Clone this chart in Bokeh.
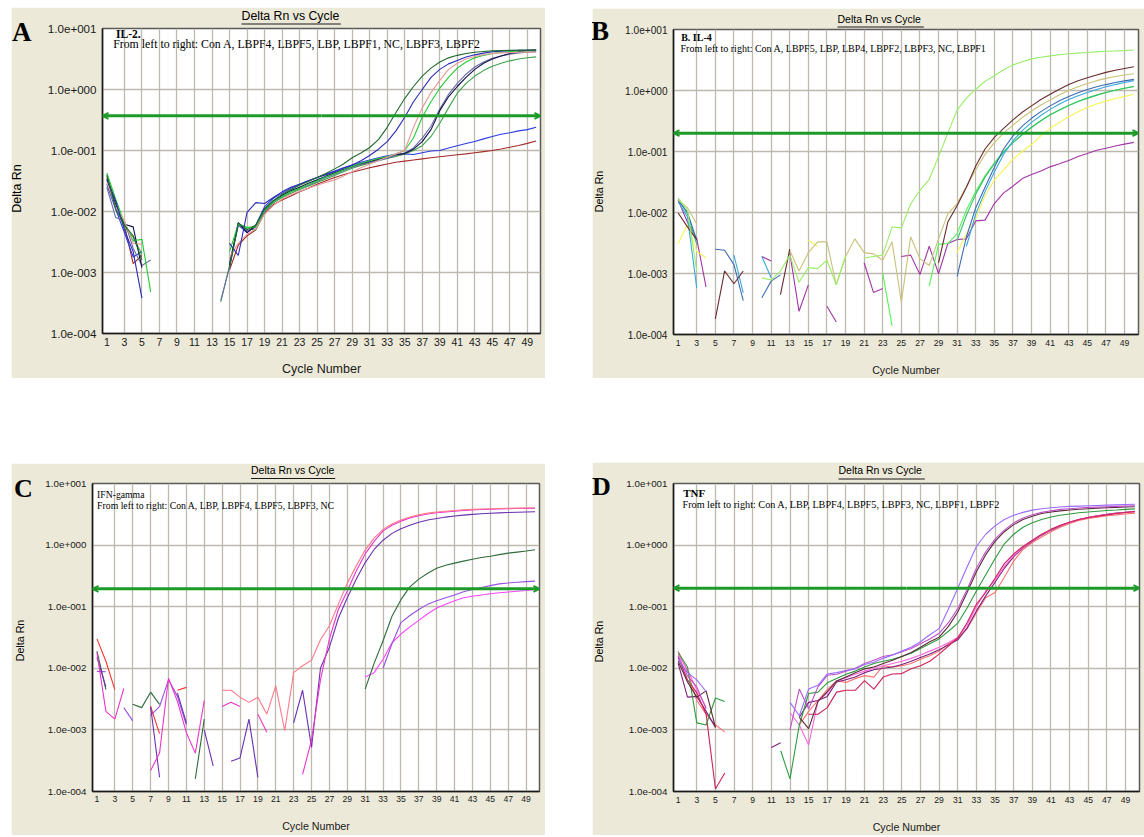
import numpy as np
from bokeh.plotting import figure
from bokeh.models import (Range1d, FixedTicker, CustomJSTickFormatter, Label,
                          Arrow, OpenHead, Spacer)
from bokeh.layouts import row, column
from bokeh.embed import file_html
from bokeh.resources import INLINE

N = None
CYCLES = list(range(1, 51))
X_TICKS = [1, 3, 5, 7, 9, 11, 13, 15, 17, 19, 21, 23, 25, 27, 29, 31, 33, 35, 37, 39, 41, 43, 45, 47, 49]
GRID_X = X_TICKS[1:]
Y_TICKS = [0.0001, 0.001, 0.01, 0.1, 1.0, 10.0]
X_START, X_END = 0.5, 50.5
Y_START, Y_END = 0.0001, 10.0

# ---------------- A : IL-2 ----------------
IL2_CONA = [0.040, 0.011, 0.0060, 0.0040, 0.0016] + [N] * 9 + [
    0.0012, 0.0065, 0.0050, 0.0060, 0.0110, 0.0150, 0.0190, 0.0230, 0.027, 0.031,
    0.036, 0.042, 0.050, 0.060, 0.076, 0.091, 0.112, 0.151, 0.24, 0.42,
    0.71, 1.12, 1.66, 2.24, 2.82, 3.3, 3.63, 3.89, 4.07, 4.2,
    4.3, 4.35, 4.4, 4.42, 4.45, 4.47]
IL2_LBPF4 = [0.034, 0.015, 0.0050, 0.0022, 0.00038] + [N] * 9 + [
    0.0030, 0.0019, 0.0097, 0.0140, 0.0135, 0.0170, 0.021, 0.025, 0.028, 0.032,
    0.036, 0.040, 0.045, 0.051, 0.058, 0.068, 0.083, 0.105, 0.14, 0.21,
    0.35, 0.63, 1.0, 1.58, 2.14, 2.63, 3.0, 3.4, 3.7, 3.95,
    4.15, 4.25, 4.35, 4.4, 4.42, 4.45]
IL2_LBPF5 = [0.030, 0.012, 0.0070, 0.0030, 0.0029] + [N] * 9 + [
    0.0018, 0.0030, 0.0042, 0.0052, 0.0090, 0.0125, 0.0160, 0.0190, 0.0215, 0.024,
    0.027, 0.030, 0.033, 0.038, 0.045, 0.052, 0.060, 0.068, 0.078, 0.088,
    0.10, 0.24, 0.50, 0.89, 1.41, 2.14, 2.69, 3.16, 3.47, 3.72,
    3.9, 3.98, 4.03, 4.08, 4.1, 4.12]
IL2_LBP = [0.043, 0.016, 0.0065, 0.0033, 0.0035, 0.00048] + [N] * 8 + [
    0.0022, 0.0062, 0.0055, 0.0056, 0.0105, 0.0140, 0.0175, 0.021, 0.024, 0.028,
    0.032, 0.037, 0.042, 0.048, 0.055, 0.062, 0.068, 0.074, 0.080, 0.088,
    0.10, 0.16, 0.35, 0.63, 1.05, 1.58, 2.24, 2.82, 3.3, 3.63,
    3.89, 4.07, 4.17, 4.27, 4.3, 4.36]
IL2_LBPF1 = [0.033, 0.013, 0.0062, 0.0056, 0.0012] + [N] * 9 + [
    0.0013, 0.0066, 0.0045, 0.0058, 0.0110, 0.0150, 0.0185, 0.0220, 0.025, 0.029,
    0.033, 0.038, 0.043, 0.049, 0.055, 0.061, 0.066, 0.072, 0.079, 0.085,
    0.089, 0.105, 0.14, 0.22, 0.45, 0.76, 1.12, 1.58, 2.14, 2.69,
    3.16, 3.55, 3.89, 4.17, 4.32, 4.42]
IL2_NC = [0.028, 0.011, 0.0045, 0.0018, 0.0022] + [N] * 9 + [
    0.0014, 0.0060, 0.0045, 0.0060, 0.0120, 0.0165, 0.0200, 0.024, 0.028, 0.032,
    0.036, 0.041, 0.046, 0.052, 0.058, 0.064, 0.070, 0.076, 0.082, 0.087,
    0.088, 0.086, 0.092, 0.098, 0.10, 0.11, 0.12, 0.13, 0.14, 0.155,
    0.17, 0.185, 0.195, 0.21, 0.22, 0.24]
IL2_LBPF3 = [0.025, 0.0080, 0.0070, 0.0025, 0.0013, 0.0016] + [N] * 7 + [
    0.00035, 0.0012, 0.0060, 0.0048, 0.0055, 0.0100, 0.0140, 0.0175, 0.021, 0.024,
    0.027, 0.031, 0.036, 0.041, 0.047, 0.053, 0.059, 0.064, 0.069, 0.075,
    0.083, 0.092, 0.11, 0.16, 0.25, 0.48, 0.83, 1.26, 1.78, 2.34,
    2.82, 3.24, 3.55, 3.8, 3.98, 4.07, 4.17]
IL2_LBPF2 = [0.038, 0.014, 0.0055, 0.0038, 0.0020] + [N] * 8 + [
    0.00033, 0.0013, 0.0064, 0.0052, 0.0050, 0.0100, 0.0140, 0.0170, 0.020, 0.023,
    0.026, 0.030, 0.034, 0.039, 0.045, 0.051, 0.057, 0.062, 0.068, 0.074,
    0.080, 0.088, 0.10, 0.12, 0.17, 0.28, 0.50, 0.87, 1.26, 1.66,
    2.04, 2.4, 2.69, 2.95, 3.16, 3.31, 3.43]
IL2_LOW = [0.036, 0.013, 0.0060, 0.0014, 0.0019] + [N] * 9 + [
    0.0011, 0.0028, 0.0040, 0.0050, 0.0095, 0.0130, 0.0155, 0.0180, 0.021, 0.024,
    0.028, 0.032, 0.036, 0.040, 0.044, 0.048, 0.052, 0.056, 0.060, 0.064,
    0.067, 0.070, 0.073, 0.076, 0.079, 0.082, 0.085, 0.088, 0.092, 0.096,
    0.10, 0.106, 0.113, 0.121, 0.131, 0.143]
IL2_THRESHOLD = 0.37

# ---------------- B : IL-4 ----------------
IL4_CONA = [0.017, 0.011, 0.0011] + [N] * 6 + [
    0.00085, 0.00078, 0.0011, 0.0020, 0.00072, 0.00125, 0.0012, 0.00165, 0.00065, 0.0019] + [N] + [
    0.0018, 0.0019, 0.0020, 0.0058, 0.0056, 0.0138, 0.023, 0.035, 0.083, 0.20,
    0.48, 0.75, 1.05, 1.41, 1.74, 2.19, 2.63, 2.95, 3.3, 3.5,
    3.7, 3.85, 4.0, 4.1, 4.2, 4.3, 4.4, 4.45, 4.5, 4.6]
IL4_LBPF5 = [0.0098, 0.0058, 0.0036] + [N] + [0.00018, 0.0011, 0.00068, 0.0011] + [N] * 3 + [
    0.00045, 0.0025] + [N] * 15 + [
    0.0015, 0.0070, 0.013, 0.026, 0.058, 0.11, 0.17, 0.24, 0.33, 0.44,
    0.56, 0.71, 0.87, 1.05, 1.25, 1.45, 1.62, 1.8, 1.98, 2.15, 2.3, 2.45]
IL4_LBP = [0.016, 0.012, 0.0065] + [N] * 9 + [
    0.0024, 0.0011, 0.0022, 0.0033, 0.0033, 0.00065, 0.0019, 0.0037, 0.0022, 0.0021,
    0.00165, 0.0033, 0.00034, 0.0040, 0.00175, 0.00135, 0.0037, 0.0095, 0.014, 0.027,
    0.05, 0.09, 0.14, 0.2, 0.27, 0.36, 0.46, 0.58, 0.7, 0.85,
    1.0, 1.15, 1.3, 1.45, 1.58, 1.7, 1.8, 1.88]
IL4_LBP4 = [0.016, 0.010, 0.0035] + [N] + [0.0025, 0.0024, 0.0014, 0.00036] + [N] + [
    0.00040, 0.00075, 0.00095] + [N] * 18 + [
    0.0009, 0.0040, 0.012, 0.026, 0.055, 0.11, 0.18, 0.26, 0.35, 0.45,
    0.56, 0.68, 0.8, 0.92, 1.04, 1.15, 1.25, 1.35, 1.44, 1.52]
IL4_LBPF2 = [0.015, 0.0085, 0.00058] + [N] * 3 + [0.0020, 0.00048] + [N] + [0.0019, 0.00085] + [N] * 20 + [
    0.0028, 0.0095, 0.022, 0.046, 0.09, 0.15, 0.22, 0.3, 0.39, 0.49,
    0.6, 0.71, 0.82, 0.93, 1.04, 1.15, 1.25, 1.35, 1.45]
IL4_LBPF3 = [0.017, 0.0095, 0.0030] + [N] * 27 + [
    0.0035, 0.009, 0.02, 0.038, 0.063, 0.097, 0.14, 0.19, 0.25, 0.32,
    0.4, 0.48, 0.57, 0.66, 0.75, 0.84, 0.93, 1.01, 1.09, 1.16]
IL4_NC = [N] * 22 + [0.0010, 0.00014] + [N] * 3 + [
    0.00062, 0.0030, 0.0031, 0.0045, 0.011, 0.022, 0.04, 0.065, 0.1, 0.14,
    0.19, 0.25, 0.32, 0.4, 0.48, 0.57, 0.66, 0.75, 0.84, 0.93, 1.01, 1.09, 1.17]
IL4_LBPF1 = [0.0031, 0.0063, 0.0023, 0.0018] + [N] * 10 + [0.0035, 0.0028] + [N] * 14 + [
    0.0022, 0.0045, 0.008, 0.019, 0.034, 0.05, 0.075, 0.1, 0.13, 0.18,
    0.24, 0.3, 0.37, 0.45, 0.53, 0.6, 0.67, 0.74, 0.8, 0.87]
IL4_LOW = [0.016, 0.0069, 0.0037, 0.00060] + [N] * 5 + [0.0019, 0.0016] + [N] + [
    0.0022, 0.00024, 0.00065] + [N] + [0.00029, 0.00016] + [N] * 2 + [
    0.0015, 0.00049, 0.00057] + [N] + [
    0.0019, 0.0020, 0.00096, 0.0028, 0.00099, 0.0031, 0.0036, 0.0037, 0.0073, 0.0075,
    0.014, 0.021, 0.027, 0.036, 0.042, 0.048, 0.056, 0.063, 0.071, 0.083,
    0.093, 0.105, 0.113, 0.123, 0.132, 0.141]
IL4_THRESHOLD = 0.20

# ---------------- C : IFN-gamma ----------------
IFN_RED = [0.030, 0.013, 0.0045] + [N] * 3 + [0.0024, 0.00087] + [N] + [0.0044, 0.0049] + [N] * 39
IFN_CONA = [N] * 14 + [
    0.0044, 0.0044, 0.0034, 0.0028, 0.0034, 0.0018, 0.0052, 0.00097, 0.0085, 0.011,
    0.0135, 0.029, 0.049, 0.11, 0.24, 0.46, 0.83, 1.3, 1.8, 2.2,
    2.55, 2.85, 3.1, 3.3, 3.45, 3.55, 3.65, 3.75, 3.8, 3.85,
    3.9, 3.93, 3.96, 3.98, 4.0, 4.05]
IFN_LBP = [0.018, 0.0020, 0.0015, 0.0047] + [N] * 2 + [
    0.00022, 0.00042, 0.0069, 0.0029, 0.00090, 0.00042, 0.0030] + [N] + [
    0.0024, 0.0028, 0.0024] + [N] + [0.0018, 0.00092] + [N] * 3 + [
    0.00019, 0.00068, 0.0065, 0.03, 0.09, 0.18, 0.38, 0.72, 1.15, 1.7,
    2.1, 2.45, 2.75, 3.0, 3.2, 3.35, 3.45, 3.55, 3.65, 3.72,
    3.78, 3.83, 3.87, 3.9, 3.93, 3.95, 3.97]
IFN_LBPF4 = [0.015, 0.0050] + [N] * 4 + [0.0024, 0.00017] + [N] + [0.0040, 0.0013] + [N] + [
    0.0010, 0.00026] + [N] + [0.00031, 0.00035, 0.0015, 0.00017] + [N] * 3 + [
    0.0013, 0.0044, 0.00052, 0.0100, 0.022, 0.065, 0.14, 0.28, 0.52, 0.85,
    1.2, 1.55, 1.85, 2.1, 2.35, 2.55, 2.7, 2.85, 2.97, 3.07,
    3.15, 3.22, 3.28, 3.33, 3.38, 3.42, 3.45, 3.48]
IFN_LBPF5 = [0.019, 0.0045] + [N] * 2 + [0.0026, 0.0023, 0.0041, 0.0026] + [N] * 3 + [
    0.00016, 0.0015] + [N] * 17 + [
    0.0046, 0.012, 0.028, 0.07, 0.13, 0.21, 0.28, 0.35, 0.42, 0.47,
    0.51, 0.55, 0.59, 0.63, 0.66, 0.7, 0.74, 0.77, 0.8, 0.84]
IFN_LBPF3 = [0.0089, 0.0088] + [N] + [0.0023, 0.0014] + [N] + [0.0017, 0.0024] + [
    0.0065, 0.0035, 0.0012] + [N] * 21 + [
    0.010, 0.025, 0.055, 0.072, 0.09, 0.11, 0.125, 0.14, 0.155, 0.175,
    0.19, 0.205, 0.22, 0.235, 0.243, 0.25, 0.255, 0.26]
IFN_NC = [N] * 30 + [
    0.0072, 0.0085, 0.014, 0.026, 0.036, 0.047, 0.06, 0.077, 0.095, 0.11,
    0.125, 0.14, 0.148, 0.155, 0.162, 0.168, 0.173, 0.178, 0.183, 0.19]
IFN_THRESHOLD = 0.195

# ---------------- D : TNF ----------------
TNF_CONA = [0.014, 0.0085, 0.0065, 0.0042] + [N] * 8 + [
    0.0028, 0.0017, 0.0046, 0.0053, 0.0081, 0.0085, 0.0092, 0.0098, 0.0115, 0.0125,
    0.0145, 0.0165, 0.019, 0.022, 0.027, 0.035, 0.044, 0.092, 0.2, 0.44,
    0.95, 1.5, 2.05, 2.6, 3.05, 3.4, 3.7, 3.9, 4.05, 4.15,
    4.25, 4.3, 4.35, 4.4, 4.45, 4.5, 4.55, 4.6]
TNF_LBP = [0.016, 0.0075, 0.0050, 0.0022] + [N] * 8 + [
    0.0010, 0.0046, 0.0022, 0.0050, 0.0077, 0.0080, 0.0090, 0.0100, 0.0120, 0.0135,
    0.0155, 0.0165, 0.0185, 0.021, 0.025, 0.030, 0.037, 0.055, 0.093, 0.19,
    0.42, 0.78, 1.25, 1.75, 2.3, 2.75, 3.1, 3.4, 3.6, 3.8,
    3.9, 4.0, 4.1, 4.15, 4.2, 4.25, 4.3, 4.35]
TNF_LBPF4 = [0.013, 0.0060, 0.0034, 0.0043, 0.0011] + [N] * 8 + [
    0.0016, 0.00105, 0.0029, 0.0042, 0.0062, 0.0072, 0.0085, 0.0098, 0.0105, 0.0120,
    0.0135, 0.0155, 0.018, 0.022, 0.027, 0.032, 0.048, 0.082, 0.17, 0.37,
    0.7, 1.15, 1.65, 2.15, 2.6, 2.95, 3.25, 3.45, 3.6, 3.72,
    3.82, 3.9, 3.98, 4.05, 4.1, 4.15, 4.2]
TNF_LBPF5 = [0.018, 0.0105, 0.0013, 0.0012, 0.0033, 0.0029] + [N] * 5 + [
    0.00046, 0.00016, 0.0012, 0.0039, 0.0041, 0.0058, 0.0068, 0.0080, 0.0090, 0.0105,
    0.0120, 0.0130, 0.0140, 0.0155, 0.0175, 0.021, 0.025, 0.030, 0.040, 0.054,
    0.095, 0.18, 0.33, 0.6, 1.05, 1.5, 1.95, 2.3, 2.6, 2.85,
    3.05, 3.2, 3.35, 3.45, 3.55, 3.65, 3.72, 3.8, 3.88]
TNF_LBPF3 = [0.015, 0.0065, 0.0040, 0.0018, 0.00011, 0.00020] + [N] * 8 + [
    0.0018, 0.0018, 0.0023, 0.0041, 0.0044, 0.0044, 0.0063, 0.0046, 0.0072, 0.0081,
    0.0082, 0.0098, 0.011, 0.013, 0.017, 0.023, 0.031, 0.055, 0.11, 0.17,
    0.29, 0.5, 0.72, 0.95, 1.2, 1.5, 1.8, 2.1, 2.35, 2.6,
    2.8, 2.95, 3.1, 3.25, 3.38, 3.5]
TNF_NC = [0.017, 0.0095, 0.0045, 0.0023] + [N] * 8 + [
    0.0019, 0.0012, 0.00057, 0.0029, 0.0040, 0.0062, 0.0070, 0.0080, 0.0090, 0.0100,
    0.0110, 0.0120, 0.0130, 0.0145, 0.0165, 0.019, 0.022, 0.026, 0.032, 0.05,
    0.1, 0.18, 0.27, 0.45, 0.68, 0.92, 1.18, 1.48, 1.78, 2.08,
    2.35, 2.6, 2.8, 2.98, 3.12, 3.25, 3.38, 3.48]
TNF_LBPF1 = [0.012, 0.0034, 0.0035, 0.0020, 0.0011] + [N] * 5 + [0.00052, 0.00062] + [N] + [
    0.0016, 0.0028, 0.0030, 0.0035, 0.0060, 0.0065, 0.0072, 0.0085, 0.0095, 0.0100,
    0.0105, 0.0115, 0.0130, 0.015, 0.017, 0.020, 0.024, 0.029, 0.045, 0.085,
    0.15, 0.25, 0.42, 0.65, 0.9, 1.15, 1.45, 1.75, 2.05, 2.35,
    2.6, 2.8, 3.0, 3.15, 3.3, 3.42, 3.55]
TNF_LBPF2 = [0.019, 0.0090, 0.0030, 0.0018, 0.0012, 0.00093] + [N] * 7 + [
    0.0012, 0.0020, 0.0030, 0.0045, 0.0063, 0.0059, 0.0068, 0.0076, 0.0072, 0.011,
    0.0105, 0.011, 0.012, 0.014, 0.016, 0.019, 0.025, 0.031, 0.044, 0.08,
    0.14, 0.17, 0.3, 0.55, 0.85, 1.1, 1.35, 1.65, 1.95, 2.25,
    2.5, 2.7, 2.85, 3.0, 3.1, 3.2, 3.3]
TNF_THRESHOLD = 0.20

BEIGE = "#ECE9D8"
GRID = "#BDB9AD"
THRESH_COLOR = "#1E9A28"
SANS = "Liberation Sans"
SERIF = "Liberation Serif"

YFMT = """
const e = Math.round(Math.log10(tick));
const s = e < 0 ? '-' : '+';
return '1.0e' + s + String(Math.abs(e)).padStart(3, '0');
"""


def lab(p, x, y, text, font, size, bold=False, align="left", side=None,
        angle=0, baseline="alphabetic"):
    lb = Label(x=x, y=y, x_units="screen", y_units="screen", text=text,
               text_font=font, text_font_size=f"{size}px",
               text_font_style="bold" if bold else "normal",
               text_align=align, text_baseline=baseline, angle=angle,
               text_color="#000000")
    if side is None:
        p.add_layout(lb)
    else:
        p.add_layout(lb, side)


def panel(cfg, series, thresh):
    p = figure(width=cfg["w"], height=cfg["h"], x_range=Range1d(X_START, X_END),
               y_range=Range1d(Y_START, Y_END), y_axis_type="log",
               output_backend="svg", toolbar_location=None,
               min_border_left=cfg["bl"], min_border_right=cfg["br"],
               min_border_top=cfg["bt"], min_border_bottom=cfg["bb"])
    p.border_fill_color = BEIGE
    p.background_fill_color = "white"
    p.outline_line_color = "#5A5A5A"
    p.outline_line_width = 1.5

    p.xaxis.ticker = FixedTicker(ticks=X_TICKS)
    p.yaxis.ticker = FixedTicker(ticks=Y_TICKS)
    p.yaxis.formatter = CustomJSTickFormatter(code=YFMT)
    p.xgrid.ticker = FixedTicker(ticks=GRID_X)
    p.ygrid.ticker = FixedTicker(ticks=Y_TICKS)
    for g in (p.xgrid, p.ygrid):
        g.grid_line_color = GRID
        g.grid_line_width = 1.3
    for ax in (p.xaxis, p.yaxis):
        ax.axis_line_color = "#1A1A1A"
        ax.axis_line_width = 1.5
        ax.major_tick_line_color = None
        ax.minor_tick_line_color = None
        ax.major_tick_out = 0
        ax.major_tick_in = 0
        ax.major_label_text_font = SANS
        ax.major_label_text_color = "#1A1A1A"
    p.yaxis.major_label_text_font_size = f"{cfg['fy']}px"
    p.xaxis.major_label_text_font_size = f"{cfg['fx']}px"
    p.xaxis.major_label_standoff = cfg["xstand"]
    p.yaxis.major_label_standoff = 6
    p.xaxis.axis_label = "Cycle Number"
    p.xaxis.axis_label_text_font = SANS
    p.xaxis.axis_label_text_font_style = "normal"
    p.xaxis.axis_label_text_color = "#1A1A1A"
    p.xaxis.axis_label_text_font_size = f"{cfg['fl']}px"
    p.xaxis.axis_label_standoff = cfg["xlstand"]

    for vals, color in series:
        p.line(CYCLES, np.array(vals, dtype=float), line_color=color, line_width=1.1)

    xmid = (X_START + X_END) / 2
    for xe in (X_START, X_END):
        p.add_layout(Arrow(x_start=xmid, y_start=thresh, x_end=xe, y_end=thresh,
                           line_color=THRESH_COLOR, line_width=3,
                           end=OpenHead(size=6, line_color=THRESH_COLOR, line_width=2)))

    # underline of the title: a thin filled box (1px text + padding), closest to the frame
    p.add_layout(Label(x=cfg["tx"], y=cfg["uy"], x_units="screen", y_units="screen",
                       text=" ", text_font=SANS, text_font_size="1px",
                       text_align="left", text_baseline="middle",
                       background_fill_color="#1A1A1A", background_fill_alpha=1.0,
                       padding=dict(left=0, right=cfg["uw"], top=0, bottom=0)), "above")
    # texts outside the frame live in side panels (not clipped)
    lab(p, cfg["tx"], cfg["ty"], "Delta Rn vs Cycle", SANS, cfg["ft"], side="above")
    lab(p, cfg["dx"], cfg["dy"], "Delta Rn", SANS, cfg["fl"], align="center",
        side="left", angle=np.pi / 2, baseline="middle")
    lab(p, cfg["lx"], cfg["ly"], cfg["letter"], SERIF, cfg["fL"], bold=True, side="left")
    # texts inside the frame
    lab(p, cfg["hx"], cfg["hy"], cfg["head"], SERIF, cfg["fh"], bold=cfg["hb"])
    lab(p, cfg["sx"], cfg["sy"], cfg["sub"], SERIF, cfg["fs"])
    return p


CFG_A = dict(w=534, h=371, bl=89, br=5, bt=21, bb=43, fy=11.6, fx=10.5, fl=12.5, ft=12.3,
             xstand=4, xlstand=13, tx=139, ty=12, uy=4.5, uw=99, dx=-14, dy=145, lx=0.5, ly=302,
             letter="A", fL=27, head="IL-2.", hx=13.6, hy=300, fh=11.5, hb=True,
             sub="From left to right: Con A, LBPF4, LBPF5, LBP, LBPF1, NC, LBPF3, LBPF2",
             sx=10.7, sy=289.5, fs=11.8)
CFG_B = dict(w=552, h=370, bl=81, br=6, bt=21, bb=42, fy=10.1, fx=8.6, fl=10.7, ft=10.5,
             xstand=5, xlstand=15, tx=164, ty=10, uy=2.5, uw=86, dx=-11.5, dy=143, lx=-1.4, ly=303.3,
             letter="B", fL=27, head="B. IL-4", hx=7.7, hy=297, fh=10, hb=True,
             sub="From left to right: Con A, LBPF5, LBP, LBP4, LBPF2, LBPF3, NC, LBPF1",
             sx=7, sy=286, fs=10)
CFG_C = dict(w=534, h=372, bl=78, br=6, bt=20, bb=44, fy=9.8, fx=8.6, fl=10.7, ft=10.5,
             xstand=4, xlstand=15, tx=158.5, ty=12.5, uy=5, uw=84, dx=-10.3, dy=151, lx=2.6, ly=303,
             letter="C", fL=26, head="IFN-gamma", hx=4.6, hy=297.5, fh=9.7, hb=False,
             sub="From left to right: Con A, LBP, LBPF4, LBPF5, LBPF3, NC",
             sx=4.6, sy=286, fs=9.75)
CFG_D = dict(w=552, h=373, bl=79, br=5, bt=21, bb=42, fy=9.8, fx=8.6, fl=10.7, ft=10.5,
             xstand=5, xlstand=15, tx=165, ty=12.2, uy=4.5, uw=86, dx=-12.6, dy=150, lx=-0.4, ly=305,
             letter="D", fL=26, head="TNF", hx=9.7, hy=299, fh=11, hb=True,
             sub="From left to right: Con A, LBP, LBPF4, LBPF5, LBPF3, NC, LBPF1, LBPF2",
             sx=9, sy=287.3, fs=10.2)

pA = panel(CFG_A,
           [(IL2_LOW, "#A52A2A"), (IL2_NC, "#2B3BE0"), (IL2_LBPF2, "#3DA24A"),
            (IL2_LBPF3, "#6B6BA8"), (IL2_LBPF1, "#10104A"), (IL2_LBP, "#22CC33"),
            (IL2_LBPF5, "#E89A9A"), (IL2_LBPF4, "#2A2AB8"), (IL2_CONA, "#1F6B2E")],
           IL2_THRESHOLD)
pB = panel(CFG_B,
           [(IL4_LOW, "#A334A8"), (IL4_LBPF1, "#F5F550"), (IL4_NC, "#55F055"),
            (IL4_LBPF3, "#35C070"), (IL4_LBPF2, "#38A8E0"), (IL4_LBP4, "#3B6DB0"),
            (IL4_LBP, "#C9C278"), (IL4_LBPF5, "#6A2A2E"), (IL4_CONA, "#99EE66")],
           IL4_THRESHOLD)
pC = panel(CFG_C,
           [(IFN_RED, "#FF3030"), (IFN_NC, "#FF44FF"), (IFN_LBPF3, "#9A50E0"),
            (IFN_LBPF5, "#2F6B3A"), (IFN_LBPF4, "#6A30B0"), (IFN_LBP, "#EE33CC"),
            (IFN_CONA, "#FF7A8A")],
           IFN_THRESHOLD)
pD = panel(CFG_D,
           [(TNF_LBPF2, "#FF7070"), (TNF_LBPF1, "#7A1F7A"), (TNF_NC, "#FF66DD"),
            (TNF_LBPF3, "#D0205A"), (TNF_LBPF5, "#2E9A3E"), (TNF_LBPF4, "#5A2A3A"),
            (TNF_LBP, "#C050C8"), (TNF_CONA, "#9A6BFF")],
           TNF_THRESHOLD)

layout = column(
    row(Spacer(width=11, height=378), column(Spacer(width=534, height=7), pA),
        Spacer(width=47, height=378), column(Spacer(width=552, height=8), pB)),
    Spacer(width=1144, height=84),
    row(Spacer(width=11, height=373), column(Spacer(width=534, height=1), pC),
        Spacer(width=47, height=373), pD),
)

open("out.html", "w").write(file_html(layout, INLINE))
